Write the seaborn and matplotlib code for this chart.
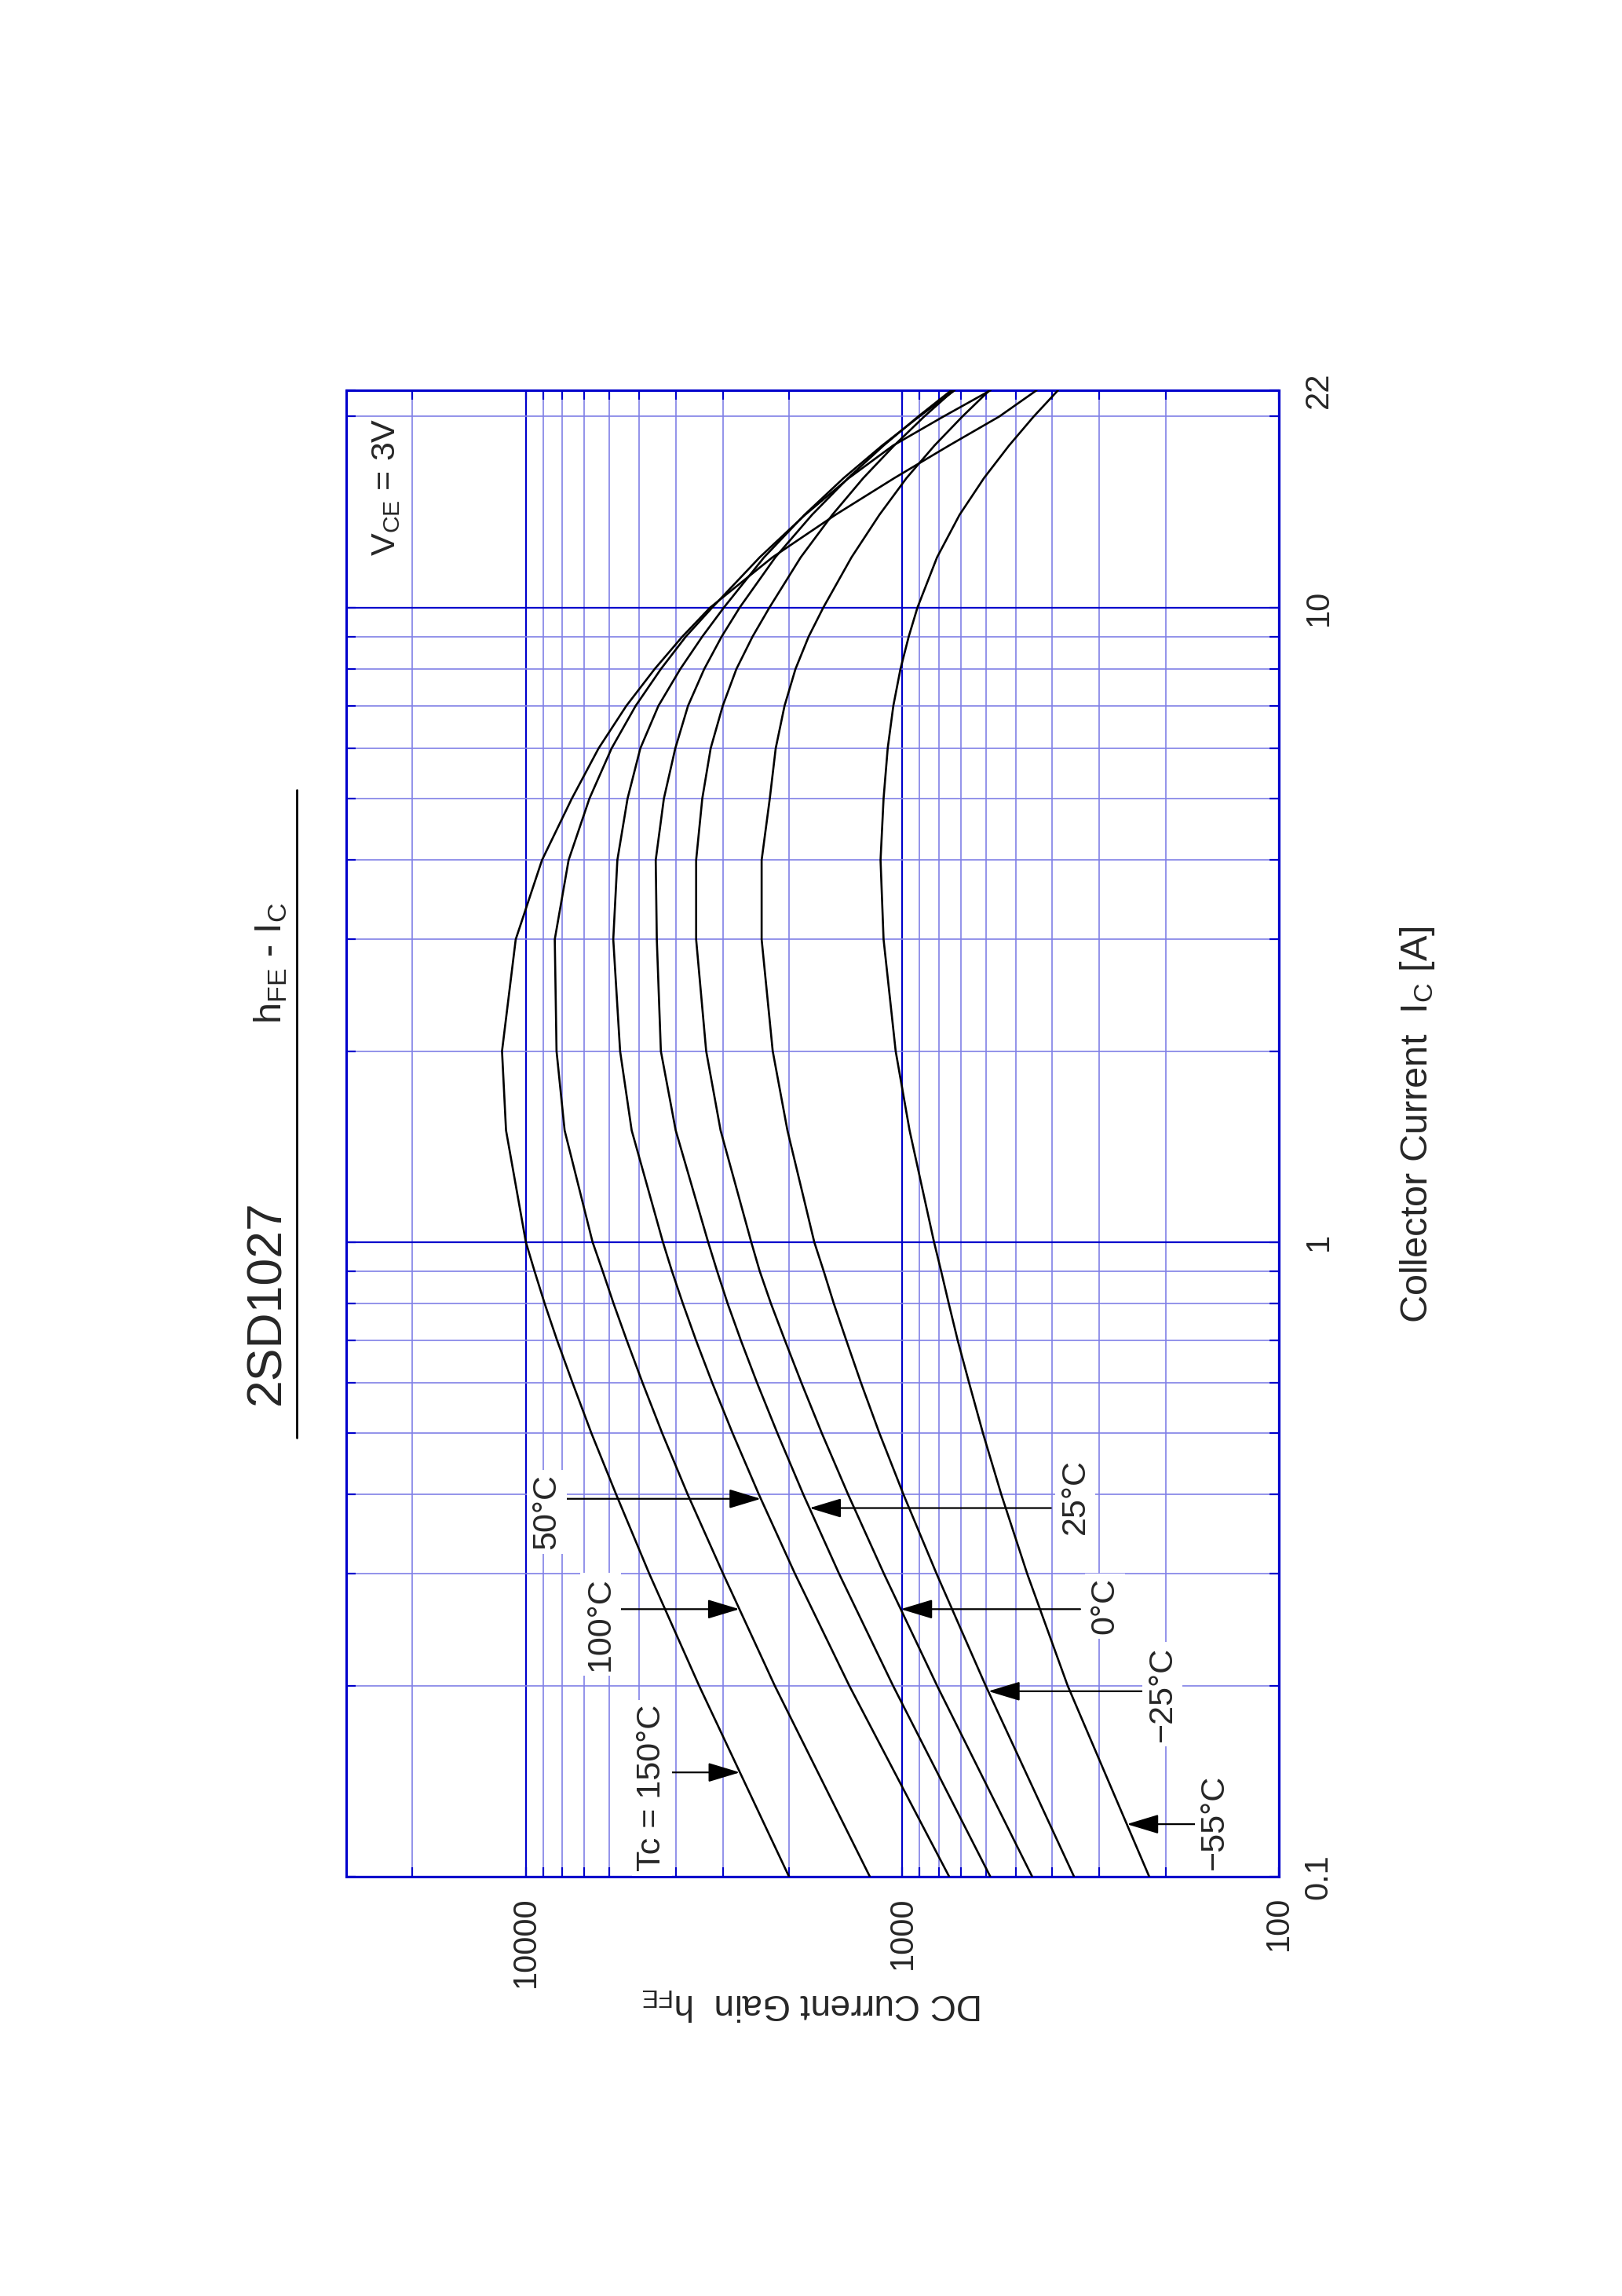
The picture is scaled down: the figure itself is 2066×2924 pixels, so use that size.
import numpy as np
import pandas as pd
import seaborn as sns
import matplotlib.pyplot as plt
from matplotlib.lines import Line2D
from matplotlib.ticker import FixedLocator, FixedFormatter, NullFormatter

# collector current [A] for every curve
ic = [0.1, 0.2, 0.3, 0.4, 0.5, 0.6, 0.7, 0.8, 0.9, 1, 1.5, 2, 3, 4, 5,
      6, 7, 8, 9, 10, 12, 14, 16, 18, 20, 22]

# DC current gain, one list per case temperature
hfe_150 = [2000, 3467, 4699, 5754, 6699, 7516, 8260, 8913, 9484, 10000, 11290, 11570, 10640, 9060, 7550,
           6410, 5410, 4550, 3840, 3240, 2213, 1506, 1050, 752, 553, 440]
hfe_100 = [1220, 2183, 2992, 3715, 4345, 4898, 5395, 5848, 6252, 6650, 7890, 8290, 8380, 7700, 6780,
           5920, 5110, 4380, 3760, 3200, 2393, 1813, 1387, 1059, 778, 583]
hfe_50 = [751, 1384, 1928, 2404, 2825, 3199, 3532, 3828, 4093, 4325, 5236, 5620, 5860, 5715, 5370,
          4966, 4446, 3890, 3400, 2980, 2330, 1820, 1432, 1132, 902, 726]
hfe_25 = [584, 1059, 1472, 1832, 2148, 2432, 2685, 2911, 3105, 3280, 4000, 4380, 4490, 4520, 4300,
          4010, 3710, 3360, 3020, 2705, 2175, 1738, 1394, 1122, 908, 741]
hfe_0 = [452, 809, 1119, 1393, 1637, 1854, 2051, 2234, 2393, 2520, 3040, 3320, 3530, 3530, 3400,
         3230, 3000, 2760, 2500, 2255, 1862, 1535, 1270, 1052, 875, 731]
hfe_m25 = [350, 601, 811, 993, 1151, 1288, 1409, 1521, 1618, 1714, 2020, 2210, 2365, 2365, 2250,
           2170, 2056, 1923, 1774, 1622, 1365, 1151, 975, 822, 693, 587]
hfe_m55 = [221, 364, 466, 546, 611, 665, 713, 753, 789, 824, 957, 1042, 1122, 1143, 1122,
           1094, 1057, 1012, 962, 912, 809, 705, 607, 521, 448, 386]

temps = ["150", "100", "50", "25", "0", "-25", "-55"]
series = [hfe_150, hfe_100, hfe_50, hfe_25, hfe_0, hfe_m25, hfe_m55]

# curve labels with arrows
ann_text = ["Tc = 150°C", "100°C", "50°C", "25°C", "0°C", "\u221225°C", "\u221255°C"]
ann_ic = [0.146, 0.264, 0.394, 0.381, 0.264, 0.196, 0.121]      # current level of arrow
ann_tail = [4205, 5700, 8170, 403, 337, 231, 166]               # hFE where arrow starts
ann_lab_hfe = [4630, 6330, 8810, 347, 290, 204, 148]
ann_lab_ic = [0.138, 0.250, 0.376, 0.397, 0.267, 0.194, 0.122]

hfe_major = [100, 1000, 10000]
hfe_minor = [200, 300, 400, 500, 600, 700, 800, 900,
             2000, 3000, 4000, 5000, 6000, 7000, 8000, 9000, 20000]
ic_major = [0.1, 1, 10, 22]
ic_minor = [0.2, 0.3, 0.4, 0.5, 0.6, 0.7, 0.8, 0.9, 2, 3, 4, 5, 6, 7, 8, 9, 20]

df = pd.DataFrame({
    "Tc": np.repeat(temps, len(ic)),
    "IC": np.tile(ic, len(temps)),
    "hFE": np.concatenate(series),
})

sns.set_style("white")
plt.rcParams["font.family"] = ["Liberation Sans", "DejaVu Sans"]

W, H = 2066, 2924
DPI = 200
fig = plt.figure(figsize=(W / DPI, H / DPI), dpi=DPI)
ax = fig.add_axes([441 / W, 1 - 2390 / H, (1629 - 441) / W, (2390 - 497) / H])

dark = "#0000cc"
light = "#8080e6"

sns.lineplot(data=df, x="hFE", y="IC", hue="Tc", palette={t: "black" for t in temps},
             estimator=None, orient="y", legend=False, linewidth=0.95, ax=ax, zorder=3)
for ln in ax.get_lines():
    ln.set_solid_joinstyle("round")

ax.set_xscale("log")
ax.set_yscale("log")
ax.set_xlim(30000, 100)
ax.set_ylim(0.1, 22)

ax.xaxis.set_major_locator(FixedLocator(hfe_major))
ax.xaxis.set_major_formatter(FixedFormatter([str(v) for v in hfe_major]))
ax.xaxis.set_minor_locator(FixedLocator(hfe_minor))
ax.xaxis.set_minor_formatter(NullFormatter())
ax.yaxis.set_major_locator(FixedLocator(ic_major))
ax.yaxis.set_major_formatter(FixedFormatter([f"{v:g}" for v in ic_major]))
ax.yaxis.set_minor_locator(FixedLocator(ic_minor))
ax.yaxis.set_minor_formatter(NullFormatter())

ax.set_axisbelow(True)
ax.grid(which="major", color=dark, linewidth=0.8)
ax.grid(which="minor", color=light, linewidth=0.6)
for s in ax.spines.values():
    s.set_color(dark)
    s.set_linewidth(1.1)

ax.tick_params(which="both", direction="in", length=4.3, width=0.8, color=dark,
               top=True, bottom=True, left=True, right=True,
               labelleft=False, labelright=True, labelbottom=True, labeltop=False)
ax.tick_params(axis="x", which="major", labelrotation=90, labelsize=15, pad=9)
ax.tick_params(axis="y", which="major", labelrotation=90, labelsize=15, pad=11)
for lbl in ax.get_yticklabels():
    lbl.set_va("center")
ax.set_xlabel("")
ax.set_ylabel("")

# arrows pointing at each curve
log_ic = np.log10(ic)
for s, txt, a_ic, tail, lx, ly in zip(series, ann_text, ann_ic, ann_tail, ann_lab_hfe, ann_lab_ic):
    tip = 10 ** np.interp(np.log10(a_ic), log_ic, np.log10(s))
    ax.annotate("", xy=(tip, a_ic), xytext=(tail, a_ic),
                arrowprops=dict(arrowstyle="-|>,head_length=0.63,head_width=0.19",
                                color="black", lw=0.8, shrinkA=0, shrinkB=0, mutation_scale=20),
                zorder=4)
    ax.text(lx, ly, txt, rotation=90, ha="center", va="center", fontsize=15.5, zorder=5,
            bbox=dict(facecolor="white", edgecolor="none", pad=2))

ax.text(23500, 15.5, "V$\\mathregular{_{CE}}$ = 3V", rotation=90, ha="center", va="center",
        fontsize=15.5, zorder=5)

# axis titles
fig.text(1035 / W, 1 - 2552 / H, "DC Current Gain  h$\\mathregular{_{FE}}$", rotation=180,
         ha="center", va="center", fontsize=16.5)
fig.text(1805 / W, 1 - 1432 / H, "Collector Current  I$\\mathregular{_C}$ [A]", rotation=90,
         ha="center", va="center", fontsize=17.5)

# chart title and underline
fig.text(340 / W, 1 - 1659 / H, "2SD1027", rotation=90, ha="center", va="center", fontsize=22.5)
fig.text(345 / W, 1 - 1227 / H, "h$\\mathregular{_{FE}}$ - I$\\mathregular{_C}$", rotation=90,
         ha="center", va="center", fontsize=17.5)
fig.add_artist(Line2D([378 / W, 378 / W], [1 - 1006 / H, 1 - 1831 / H],
                      transform=fig.transFigure, color="black", linewidth=1.0))

fig.savefig("out.png", dpi=DPI)
